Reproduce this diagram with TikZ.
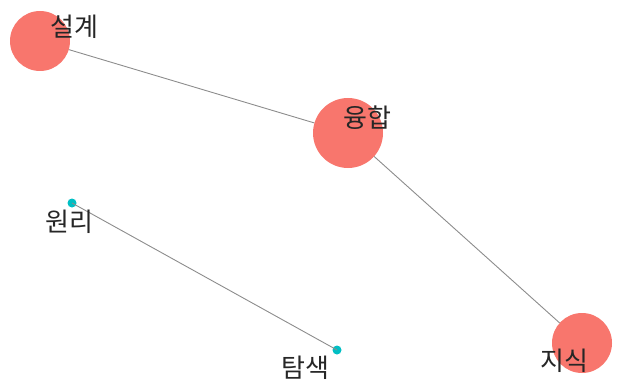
\documentclass[tikz,border=0pt]{standalone}
\usepackage{fontspec}
\newfontfamily\kr{Noto Sans CJK KR}
\definecolor{nodered}{HTML}{F8766D}
\definecolor{nodecyan}{HTML}{00BFC4}
\definecolor{edgegray}{HTML}{8C8C8C}
\begin{document}
\begin{tikzpicture}[x=1pt,y=-1pt,
  big/.style={circle,fill=nodered,inner sep=0pt},
  small/.style={circle,fill=nodecyan,inner sep=0pt,minimum size=9pt},
  lbl/.style={font=\kr\fontsize{26}{26}\selectfont,text=black!85,inner sep=0pt},
  edge/.style={draw=edgegray,line width=0.9pt}]
\useasboundingbox (0,0) rectangle (617,382);
\node[big,minimum size=60pt] (a) at (40,41) {};
\node[big,minimum size=70pt] (b) at (348,133) {};
\node[big,minimum size=60pt] (c) at (582,343) {};
\node[small] (d) at (72,203) {};
\node[small] (e) at (337,350) {};
\draw[edge] (a) -- (b);
\draw[edge] (b) -- (c);
\draw[edge] (d.center) -- (e.center);
\node[lbl] (la) at (74,27) {설계};
\node[lbl] (lb) at (367,118) {융합};
\node[lbl] (lc) at (564,361) {지식};
\node[lbl] (ld) at (69,222) {원리};
\node[lbl] (le) at (305,368) {탐색};
\end{tikzpicture}
\end{document}
